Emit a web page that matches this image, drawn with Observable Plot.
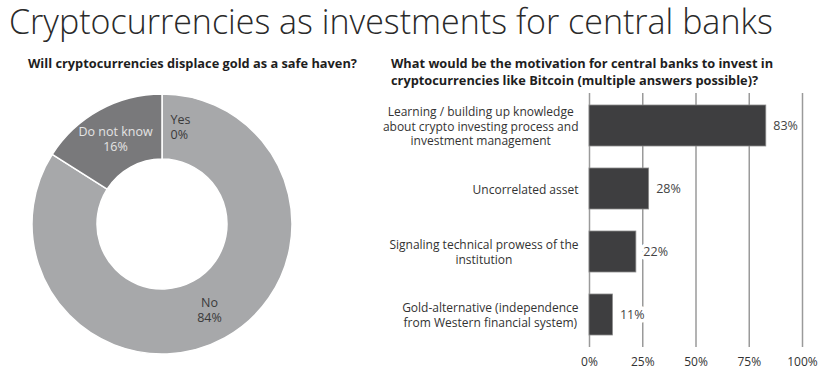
<!DOCTYPE html>
<html>
<head>
<meta charset="utf-8">
<script src="https://cdn.jsdelivr.net/npm/d3@7"></script>
<script src="https://cdn.jsdelivr.net/npm/@observablehq/plot@0.6"></script>
<style>
  html, body { margin: 0; padding: 0; background: #fff; }
  #wrap { position: relative; width: 827px; height: 376px; overflow: hidden; font-family: "Open Sans", sans-serif; color: #222; }
  #title { position: absolute; left: 9px; top: 0px; font-size: 34px; line-height: 42px; font-weight: 300; color: #2a2a2a; white-space: nowrap; }
  .sub { position: absolute; font-size: 12.8px; font-weight: 700; color: #1e1e1e; line-height: 17px; white-space: nowrap; }
  #subL { left: 28px; top: 55px; }
  #subR { left: 391px; top: 55px; }
  #donut { position: absolute; left: 0; top: 90px; }
  #bars { position: absolute; left: 380px; top: 88px; }
</style>
</head>
<body>
<div id="wrap">
  <div id="title">Cryptocurrencies as investments for central banks</div>
  <div class="sub" id="subL">Will cryptocurrencies displace gold as a safe haven?</div>
  <div class="sub" id="subR">What would be the motivation for central banks to invest in<br>cryptocurrencies like Bitcoin (multiple answers possible)?</div>
  <div id="donut"></div>
  <div id="bars"></div>
</div>
<script>
// ---- Data ----
const pieLabels = ["Yes", "No", "Do not know"];
const pieValues = [0, 84, 16];
const pieColors = ["#a7a8aa", "#a7a8aa", "#79797b"];
const pieTextColors = ["#3a3a3a", "#3a3a3a", "#e4e4e4"];

const barCategories = [
  "Learning / building up knowledge\nabout crypto investing process and\ninvestment management",
  "Uncorrelated asset",
  "Signaling technical prowess of the\ninstitution",
  "Gold-alternative (independence\nfrom Western financial system)"
];
const barValues = [83, 28, 22, 11];
const xTicks = [0, 25, 50, 75, 100];

// ---- Donut ----
const pieData = pieLabels.map((label, i) => ({label, value: pieValues[i], color: pieColors[i], textColor: pieTextColors[i]}));
const arcs = d3.pie().sort(null).value(d => d.value)(pieData);
const innerFrac = 0.5;
const labelArc = d3.arc().innerRadius((1 + innerFrac) / 2).outerRadius((1 + innerFrac) / 2);
const pieLabelData = arcs.map(a => {
  const [cx, cy] = labelArc.centroid(a);
  return {x: cx, y: cy, text: `${a.data.label}\n${a.data.value}%`, color: a.data.textColor, zero: a.data.value === 0};
});

function donutMark(index, scales, values, dimensions) {
  const x = scales.x, y = scales.y;
  const r = x(1) - x(0);
  const g = d3.create("svg:g").attr("transform", `translate(${x(0)},${y(0)})`);
  const arc = d3.arc().innerRadius(r * innerFrac).outerRadius(r);
  g.selectAll("path").data(arcs.filter(a => a.data.value > 0)).join("path")
    .attr("d", arc).attr("fill", d => d.data.color)
    .attr("stroke", "#fff").attr("stroke-width", 1.5).attr("stroke-linejoin", "round");
  return g.node();
}

const donut = Plot.plot({
  width: 324, height: 268,
  marginTop: 0, marginBottom: 0, marginLeft: 0, marginRight: 0,
  x: {domain: [-162 / 130, 162 / 130], range: [0, 324], axis: null},
  y: {domain: [-134 / 130, 134 / 130], range: [0, 268], axis: null},
  style: {fontFamily: "Open Sans, sans-serif", fontSize: "12.5px", background: "transparent"},
  marks: [
    donutMark,
    Plot.text(pieLabelData.filter(d => !d.zero), {x: "x", y: "y", text: "text", fill: "color", lineHeight: 1.2, fontSize: 12.5}),
    Plot.text(pieLabelData.filter(d => d.zero), {x: "x", y: "y", text: "text", fill: "color", lineHeight: 1.2, fontSize: 12.5, textAnchor: "start", dx: 8})
  ]
});
document.getElementById("donut").appendChild(donut);

// ---- Bars ----
const barData = barCategories.map((c, i) => ({cat: c, value: barValues[i]}));
const bars = Plot.plot({
  width: 447, height: 288,
  marginLeft: 209, marginRight: 25, marginTop: 5, marginBottom: 29,
  x: {domain: [0, 100], axis: null, label: null},
  y: {domain: barCategories, axis: null, label: null, paddingInner: 0.35, paddingOuter: 0.16},
  style: {fontFamily: "Open Sans, sans-serif", fontSize: "12px", color: "#333", background: "transparent"},
  marks: [
    Plot.ruleX(xTicks, {stroke: "#9a9a9a", strokeWidth: 1.5}),
    Plot.axisX({ticks: xTicks, tickFormat: d => d + "%", tickSize: 0, tickPadding: 10, fontSize: 12, fill: "#333", label: null}),
    Plot.barX(barData, {x: "value", y: "cat", fill: "#3e3e40", stroke: "#8a8a8a", strokeWidth: 0.8}),
    Plot.text(barData, {x: "value", y: "cat", text: d => d.value + "%", textAnchor: "start", dx: 7, fill: "#444", stroke: "#fff", strokeWidth: 7, fontSize: 12.5}),
    Plot.text(barData, {y: "cat", text: "cat", frameAnchor: "left", textAnchor: "end", dx: -11, fill: "#333", fontSize: 12, lineHeight: 1.17})
  ]
});
document.getElementById("bars").appendChild(bars);

// center the lines of each multi-line category label within its block
const textGroups = bars.querySelectorAll("g[aria-label='text']");
const catGroup = textGroups[textGroups.length - 1];
catGroup.querySelectorAll("text").forEach(t => {
  const spans = t.querySelectorAll("tspan");
  if (spans.length < 2) return;
  let maxW = 0;
  spans.forEach(s => { maxW = Math.max(maxW, s.getComputedTextLength()); });
  t.setAttribute("text-anchor", "middle");
  spans.forEach(s => s.setAttribute("x", -maxW / 2));
});
</script>
</body>
</html>
